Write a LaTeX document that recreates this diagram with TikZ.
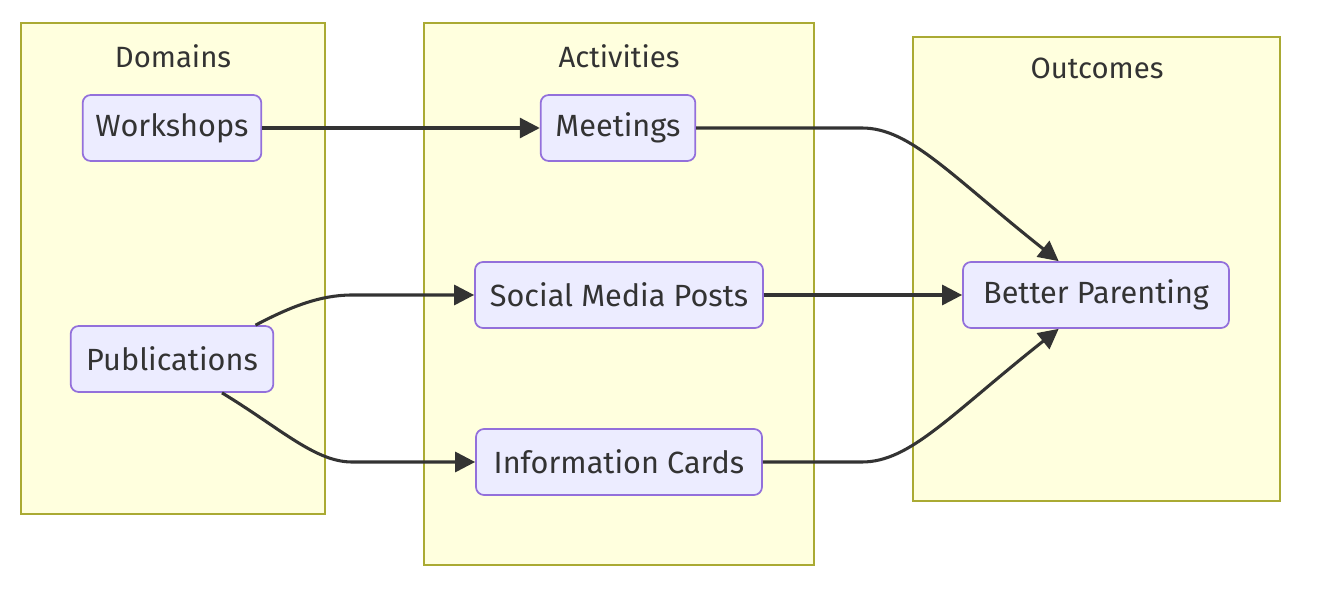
\documentclass[tikz,border=0pt]{standalone}
\usepackage{fontspec}
\setmainfont{Fira Sans}
\usetikzlibrary{arrows.meta}
\definecolor{clfill}{HTML}{FFFFDE}
\definecolor{clline}{HTML}{AAAA33}
\definecolor{ndfill}{HTML}{ECECFF}
\definecolor{ndline}{HTML}{9370DB}
\definecolor{ink}{HTML}{333333}

\begin{document}
\begin{tikzpicture}[x=0.75pt, y=-0.75pt,
	cluster/.style={fill=clfill, draw=clline, line width=1.3pt},
	title/.style={text=ink, font=\fontsize{22}{26}\selectfont},
	box/.style={fill=ndfill, draw=ndline, line width=1.3pt, rounded corners=6pt,
		minimum height=49.5pt, inner sep=0pt, text=ink,
		font=\fontsize{23}{27}\selectfont},
	link/.style={draw=ink, line width=2.3pt,
		-{Triangle[length=15pt,width=15pt]}}]
\useasboundingbox (0,0) rectangle (1318,610);
% groups
\draw[cluster] (21,23) rectangle (325,514);
\draw[cluster] (424,23) rectangle (814,565);
\draw[cluster] (913,37) rectangle (1280,501);
\node[title] (domains) at (173,56) {Domains};
\node[title] (activities) at (619,56) {Activities};
\node[title] (outcomes) at (1097,68) {Outcomes};
% nodes
\node[box, minimum width=134pt] (work) at (172,128) {Workshops};
\node[box, minimum width=152pt] (pub) at (172,359) {Publications};
\node[box, minimum width=116pt] (meet) at (618,128) {Meetings};
\node[box, minimum width=216pt] (soc) at (619,295) {Social Media Posts};
\node[box, minimum width=214.5pt] (info) at (619,462) {Information Cards};
\node[box, minimum width=199.5pt] (bp) at (1096,295) {Better Parenting};
% links
\draw[link] (work) -- (meet);
\draw[link] ([xshift=-14pt]pub.north east)
	.. controls (290,307) and (320,295) .. (352,295) -- (soc.west);
\draw[link] ([xshift=37.5pt]pub.south)
	.. controls (280,428) and (315,462) .. (352,462) -- (info.west);
\draw[link] (meet.east) -- (862,128)
	.. controls (910,128) and (950,175) .. ([xshift=-28pt]bp.north);
\draw[link] (soc) -- (bp);
\draw[link] (info.east) -- (862,462)
	.. controls (910,462) and (950,415) .. ([xshift=-28pt]bp.south);
\end{tikzpicture}
\end{document}
